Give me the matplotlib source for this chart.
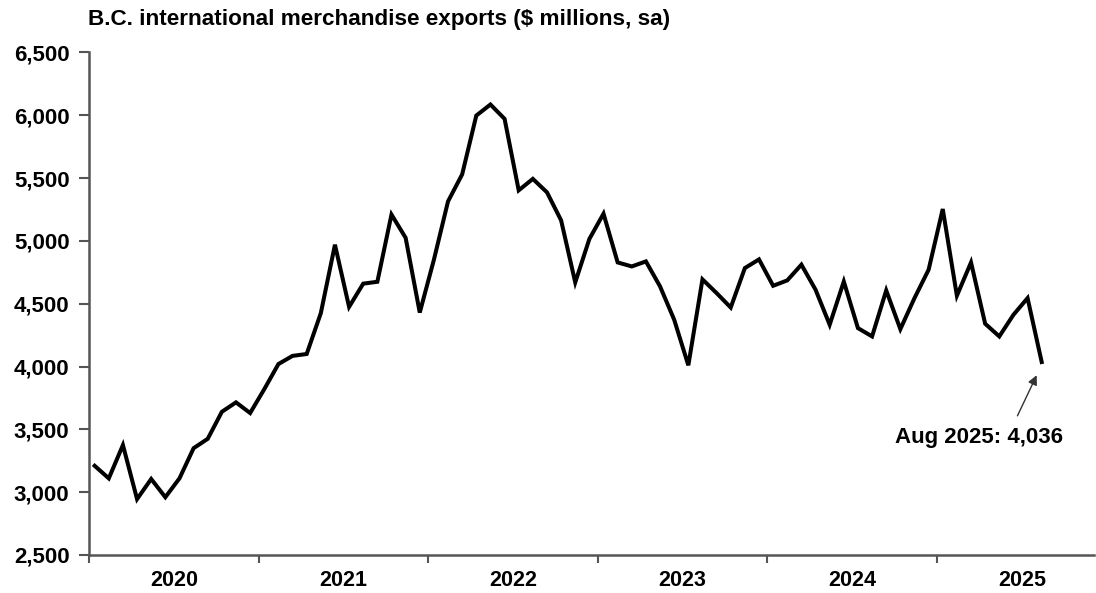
import numpy as np
import matplotlib
matplotlib.use("Agg")
import matplotlib.pyplot as plt
from matplotlib.ticker import FuncFormatter

# Monthly B.C. merchandise exports, Jan 2020 - Aug 2025 ($ millions, sa)
exports_2020 = [3210, 3110, 3375, 2945, 3105, 2960, 3110, 3350, 3425, 3640, 3715, 3630]
exports_2021 = [3820, 4020, 4085, 4100, 4425, 4970, 4475, 4660, 4675, 5210, 5025, 4430]
exports_2022 = [4850, 5315, 5530, 5998, 6086, 5972, 5403, 5494, 5387, 5164, 4670, 5016]
exports_2023 = [5217, 4829, 4797, 4837, 4638, 4373, 4010, 4694, 4585, 4470, 4784, 4853]
exports_2024 = [4643, 4686, 4811, 4612, 4333, 4677, 4306, 4240, 4606, 4298, 4545, 4771]
exports_2025 = [5254, 4564, 4829, 4341, 4240, 4412, 4545, 4036]
years = ["2020", "2021", "2022", "2023", "2024", "2025"]

values = exports_2020 + exports_2021 + exports_2022 + exports_2023 + exports_2024 + exports_2025
months = np.arange(len(values))

plt.rcParams['font.family'] = ['Liberation Sans', 'DejaVu Sans']
plt.rcParams['font.weight'] = 'bold'

fig = plt.figure(figsize=(10.96, 5.93), dpi=100)
ax = fig.add_axes([89 / 1096, 1 - 555 / 593, (1094 - 89) / 1096, (555 - 52.5) / 593])

ax.plot(months, values, color='black', lw=2.9, solid_joinstyle='miter')

ax.set_ylim(2500, 6500)
ax.set_xlim(-0.4, 70.7)
ax.set_yticks(np.arange(2500, 6501, 500))
ax.yaxis.set_major_formatter(FuncFormatter(lambda v, p: f"{int(v):,}"))

# year boundaries as major ticks, labels centred on each year
ax.set_xticks([12 * k - 0.4 for k in range(len(years))])
ax.set_xticklabels([])
ax.set_xticks([12 * k + 5.6 for k in range(len(years))], minor=True)
ax.set_xticklabels(years, minor=True, fontsize=15.5, fontweight='bold')
ax.tick_params(axis='x', which='minor', length=0, pad=11)
ax.tick_params(axis='x', which='major', length=6, width=1.5, color='#555555', direction='out')
ax.tick_params(axis='y', length=7, width=1.5, color='#555555', direction='out', pad=7,
               labelsize=16)
for lab in ax.get_yticklabels():
    lab.set_fontweight('bold')

for side in ['top', 'right']:
    ax.spines[side].set_visible(False)
for side in ['left', 'bottom']:
    ax.spines[side].set_color('#555555')
    ax.spines[side].set_linewidth(1.8)

fig.text(88 / 1096, 1 - 20 / 593, "B.C. international merchandise exports ($ millions, sa)",
         ha='left', va='center', fontsize=16.2, fontweight='bold')

# label for the latest point
ax.annotate('', xy=(66.73, 3951), xytext=(65.2, 3588),
            arrowprops=dict(arrowstyle='-|>', color='#333333', lw=1.0, mutation_scale=14))
ax.text(62.57, 3435, "Aug 2025: 4,036", ha='center', va='center', fontsize=16, fontweight='bold')

fig.savefig("out.png", dpi=100)
